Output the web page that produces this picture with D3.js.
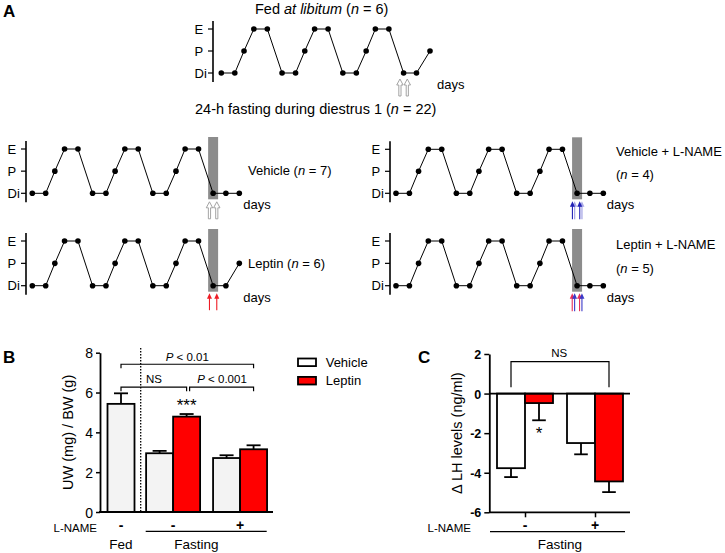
<!DOCTYPE html>
<html><head><meta charset="utf-8">
<script src="https://cdn.jsdelivr.net/npm/d3@7"></script>
<style>body{margin:0;background:#fff} svg{display:block} text{font-family:"Liberation Sans",Arial,sans-serif;fill:#000}</style>
</head><body><svg id="c" width="725" height="553"></svg>
<script>
// ---------- DATA ----------
const stageLevels = ["Di", "P", "E"];
const dayPositions = [0, 1.1, 1.85, 2.65, 3.75, 4.95, 6.05, 6.8, 7.6, 8.7, 9.9, 11, 11.8, 12.55, 13.65, 14.85, 15.9, 17];
const baseCycle = ["Di","Di","P","E","E","Di","Di","P","E","E","Di","Di","P","E","E"];
const fedCycle = baseCycle.concat(["Di","Di","P"]);
const vehicleCycle = baseCycle.concat(["Di","Di","Di"]);
const leptinCycle = baseCycle.concat(["Di","Di","P"]);
const vehicleLNameCycle = baseCycle.concat(["Di","Di","Di"]);
const leptinLNameCycle = baseCycle.concat(["Di","Di","Di"]);
const injectionDays = [14.55, 15.15];
const fastingWindow = [14.44, 15.26];

const uwTicks = [0, 2, 4, 6, 8];
const uwTreatment = ["Vehicle", "Vehicle", "Leptin", "Vehicle", "Leptin"];
const uwGroup = [0, 1, 1, 2, 2];
const uwMean = [5.43, 2.95, 4.79, 2.71, 3.15];
const uwSem = [0.53, 0.12, 0.13, 0.14, 0.2];
const uwLName = ["-", "-", "+"];

const lhTicks = [-6, -4, -2, 0, 2];
const lhLName = ["-", "+"];
const lhGroup = ["-", "-", "+", "+"];
const lhTreatment = ["Vehicle", "Leptin", "Vehicle", "Leptin"];
const lhMean = [-3.77, -0.48, -2.5, -4.44];
const lhSem = [0.45, 0.87, 0.57, 0.54];

const legendItems = ["Vehicle", "Leptin"];
const fillOf = {Vehicle: "#f3f3f3", Leptin: "#ff0000"};

// ---------- DRAW ----------
const svg = d3.select("#c");
const FONT = "Liberation Sans, Arial, sans-serif";

function txt(g, x, y, s, size, opts = {}) {
  const t = g.append("text").attr("x", x).attr("y", y).attr("font-size", size)
    .attr("text-anchor", opts.anchor || "start");
  if (opts.weight) t.attr("font-weight", opts.weight);
  if (opts.transform) t.attr("transform", opts.transform);
  return t;
}
function rich(t, parts) {
  parts.forEach(p => {
    const ts = t.append("tspan").text(p[0]);
    if (p[1]) ts.attr("font-style", "italic");
  });
  return t;
}

function openArrow(g, x, tip, bottom, color) {
  const hw = 3.2, hh = 6, sw = 1.1;
  g.append("path").attr("d",
    `M${x},${tip}L${x+hw},${tip+hh}L${x+sw},${tip+hh}L${x+sw},${bottom}L${x-sw},${bottom}L${x-sw},${tip+hh}L${x-hw},${tip+hh}Z`)
    .attr("fill", "#fff").attr("stroke", color).attr("stroke-width", 0.9);
}
function solidArrow(g, x, tip, bottom, color, w = 1.1) {
  g.append("line").attr("x1", x).attr("x2", x).attr("y1", tip + 4).attr("y2", bottom)
    .attr("stroke", color).attr("stroke-width", w);
  g.append("path").attr("d", `M${x},${tip}L${x+2.5},${tip+5.5}L${x-2.5},${tip+5.5}Z`).attr("fill", color);
}

function cyclePanel(cfg) {
  const g = svg.append("g");
  const x = d3.scaleLinear().domain([0, 17]).range(cfg.xr);
  const y = d3.scalePoint().domain(stageLevels).range([cfg.yDi, cfg.yE]);
  if (cfg.fast) {
    g.append("rect").attr("x", x(fastingWindow[0])).attr("width", x(fastingWindow[1]) - x(fastingWindow[0]))
      .attr("y", cfg.yE - 12).attr("height", cfg.yDi - cfg.yE + 18).attr("fill", "#8c8c8c");
  }
  g.append("line").attr("x1", cfg.ax).attr("x2", cfg.ax).attr("y1", cfg.yE - 8).attr("y2", cfg.yDi + 9)
    .attr("stroke", "#000").attr("stroke-width", 1.6);
  stageLevels.forEach(s => {
    g.append("line").attr("x1", cfg.ax - 5).attr("x2", cfg.ax).attr("y1", y(s)).attr("y2", y(s))
      .attr("stroke", "#000").attr("stroke-width", 1.2);
    txt(g, cfg.ax - 18.5, y(s) + 4.5, s, 13).text(s);
  });
  const pts = cfg.data.map((s, i) => [x(dayPositions[i]), y(s)]);
  g.append("path").attr("d", d3.line()(pts)).attr("fill", "none").attr("stroke", "#000").attr("stroke-width", 1);
  g.selectAll("circle.p").data(pts).enter().append("circle")
    .attr("cx", d => d[0]).attr("cy", d => d[1]).attr("r", 2.8).attr("fill", "#000");
  txt(g, x(17) + cfg.daysDx, cfg.yDi + 16, "days", 13).text("days");
  injectionDays.forEach(d => cfg.arrow(g, x(d), cfg.yDi + cfg.tipDy, cfg.yDi + cfg.tipDy + cfg.alen));
  return g;
}

// Panel letters
txt(svg, 3, 17, "A", 17, {weight: "bold"}).text("A");
txt(svg, 3, 363, "B", 17, {weight: "bold"}).text("B");
txt(svg, 418, 363, "C", 17, {weight: "bold"}).text("C");

// Titles
rich(txt(svg, 255, 14, "", 14.5), [["Fed "], ["at libitum", true], [" ("], ["n", true], [" = 6)"]]);
rich(txt(svg, 195, 114, "", 14.5), [["24-h fasting during diestrus 1 ("], ["n", true], [" = 22)"]]);

cyclePanel({xr: [221.3, 430], ax: 213, yE: 29, yDi: 73, data: fedCycle, fast: false, daysDx: 7,
  tipDy: 6, alen: 17, arrow: (g, x, t, b) => openArrow(g, x, t, b, "#9a9a9a")});
cyclePanel({xr: [32.3, 239.3], ax: 26, yE: 149, yDi: 193.3, data: vehicleCycle, fast: true, daysDx: 4,
  tipDy: 8.5, alen: 17, arrow: (g, x, t, b) => openArrow(g, x, t, b, "#9a9a9a")});
cyclePanel({xr: [32.3, 239.3], ax: 26, yE: 241, yDi: 285.7, data: leptinCycle, fast: true, daysDx: 4,
  tipDy: 7.5, alen: 17, arrow: (g, x, t, b) => solidArrow(g, x, t, b, "#ee1c25")});
cyclePanel({xr: [396, 603.3], ax: 390, yE: 149.3, yDi: 193.3, data: vehicleLNameCycle, fast: true, daysDx: 3.5,
  tipDy: 8, alen: 18, arrow: (g, x, t, b) => { solidArrow(g, x + 1.2, t, b, "#a9a9e6", 1.3); solidArrow(g, x - 1, t, b, "#2323b5", 1.1); }});
cyclePanel({xr: [396, 603.3], ax: 390, yE: 241, yDi: 285.7, data: leptinLNameCycle, fast: true, daysDx: 3.5,
  tipDy: 7.5, alen: 18, arrow: (g, x, t, b) => { solidArrow(g, x - 1.2, t, b, "#e8305a", 1.1); solidArrow(g, x + 1.2, t, b, "#3a3ac8", 1.1); }});

rich(txt(svg, 248, 175, "", 13), [["Vehicle ("], ["n", true], [" = 7)"]]);
rich(txt(svg, 248, 268, "", 13), [["Leptin ("], ["n", true], [" = 6)"]]);
txt(svg, 616, 156, "", 13).text("Vehicle + L-NAME");
rich(txt(svg, 616, 179, "", 13), [["("], ["n", true], [" = 4)"]]);
txt(svg, 616, 249, "", 13).text("Leptin + L-NAME");
rich(txt(svg, 616, 273, "", 13), [["("], ["n", true], [" = 5)"]]);

// ---------- Panel B ----------
const gB = svg.append("g");
const yB = d3.scaleLinear().domain([0, 8]).range([512, 352.7]);
const groupGap = [0, 0.43, 0.91];
const xB = d3.scaleLinear().domain([0, 1]).range([107.5, 134.5]);
const bw = xB(1) - xB(0);
const bx = i => xB(i + groupGap[uwGroup[i]]);

gB.append("line").attr("x1", 140.7).attr("x2", 140.7).attr("y1", 348).attr("y2", yB(0))
  .attr("stroke", "#000").attr("stroke-width", 1.3).attr("stroke-dasharray", "1.4,1.6");

uwMean.forEach((m, i) => {
  const x0 = bx(i);
  gB.append("rect").attr("x", x0).attr("width", bw).attr("y", yB(m)).attr("height", yB(0) - yB(m))
    .attr("fill", fillOf[uwTreatment[i]]).attr("stroke", "#000").attr("stroke-width", 1.8);
  const cx = x0 + bw / 2;
  gB.append("line").attr("x1", cx).attr("x2", cx).attr("y1", yB(m)).attr("y2", yB(m + uwSem[i]))
    .attr("stroke", "#000").attr("stroke-width", 1.8);
  gB.append("line").attr("x1", cx - 7).attr("x2", cx + 7).attr("y1", yB(m + uwSem[i])).attr("y2", yB(m + uwSem[i]))
    .attr("stroke", "#000").attr("stroke-width", 1.8);
});

const axB = gB.append("g").attr("transform", "translate(100,0)")
  .call(d3.axisLeft(yB).tickValues(uwTicks).tickSize(4).tickSizeOuter(0).tickPadding(3));
axB.select(".domain").attr("stroke-width", 1.8);
axB.selectAll(".tick line").attr("stroke-width", 1.5);
axB.selectAll(".tick text").attr("font-size", 14).attr("font-family", FONT).attr("dy", "0.36em");
gB.append("line").attr("x1", 99).attr("x2", 273).attr("y1", yB(0)).attr("y2", yB(0))
  .attr("stroke", "#000").attr("stroke-width", 1.8);

txt(gB, 0, 0, "", 14.5, {anchor: "middle", transform: `translate(73,${yB(4)}) rotate(-90)`}).text("UW (mg) / BW (g)");

function bracket(g, x1, x2, y, leg, sw = 1.2) {
  g.append("path").attr("d", `M${x1},${y + leg}V${y}H${x2}V${y + leg}`).attr("fill", "none")
    .attr("stroke", "#000").attr("stroke-width", sw);
}
const cB = i => bx(i) + bw / 2;
bracket(gB, cB(0), cB(4), yB(7.42), 4);
bracket(gB, cB(0), cB(2), yB(6.27), 4);
bracket(gB, cB(2) + 3, cB(4), yB(6.27), 4);
rich(txt(gB, (cB(0) + cB(4)) / 2, 361, "", 11.5, {anchor: "middle"}), [["P", true], [" < 0.01"]]);
txt(gB, 154, 383, "", 11.5, {anchor: "middle"}).text("NS");
rich(txt(gB, 222, 383, "", 11.5, {anchor: "middle"}), [["P", true], [" < 0.001"]]);
txt(gB, cB(2), 411, "", 17, {anchor: "middle"}).text("***");

txt(gB, 97, 531.5, "", 11.5, {anchor: "end"}).text("L-NAME");
[0, 1, 2].forEach(gi => {
  const idx = uwGroup.map((g, i) => g === gi ? i : -1).filter(i => i >= 0);
  const cx = (bx(idx[0]) + bx(idx[idx.length - 1]) + bw) / 2;
  txt(gB, cx, 529.5, "", 14, {anchor: "middle", weight: "bold"}).text(uwLName[gi]);
});
gB.append("line").attr("x1", 145.7).attr("x2", 266.7).attr("y1", 531.3).attr("y2", 531.3)
  .attr("stroke", "#000").attr("stroke-width", 1.2);
txt(gB, cB(0), 549, "", 13.5, {anchor: "middle"}).text("Fed");
txt(gB, 196.5, 549, "", 13.5, {anchor: "middle"}).text("Fasting");

legendItems.forEach((l, i) => {
  gB.append("rect").attr("x", 298).attr("y", 358.5 + i * 18.4).attr("width", 18).attr("height", 7.6)
    .attr("fill", l === "Vehicle" ? "#fff" : fillOf[l]).attr("stroke", "#000").attr("stroke-width", 1.8);
  txt(gB, 325.7, 367 + i * 18.4, "", 13).text(l);
});

// ---------- Panel C ----------
const gC = svg.append("g");
const yC = d3.scaleLinear().domain([-6, 2]).range([512.3, 354]);
const xC = d3.scalePoint().domain(lhLName).range([490, 630]).padding(0.5);
const cw = 28;

lhMean.forEach((m, i) => {
  const c = xC(lhGroup[i]);
  const x0 = lhTreatment[i] === "Vehicle" ? c - cw : c;
  gC.append("rect").attr("x", x0).attr("width", cw).attr("y", yC(0)).attr("height", yC(m) - yC(0))
    .attr("fill", lhTreatment[i] === "Vehicle" ? "#fff" : fillOf.Leptin).attr("stroke", "#000").attr("stroke-width", 1.8);
  const cx = x0 + cw / 2;
  gC.append("line").attr("x1", cx).attr("x2", cx).attr("y1", yC(m)).attr("y2", yC(m - lhSem[i]))
    .attr("stroke", "#000").attr("stroke-width", 1.8);
  gC.append("line").attr("x1", cx - 6.8).attr("x2", cx + 6.8).attr("y1", yC(m - lhSem[i])).attr("y2", yC(m - lhSem[i]))
    .attr("stroke", "#000").attr("stroke-width", 1.8);
});

gC.append("line").attr("x1", 489).attr("x2", 630).attr("y1", yC(0)).attr("y2", yC(0))
  .attr("stroke", "#000").attr("stroke-width", 1.8);
const axC = gC.append("g").attr("transform", "translate(489.3,0)")
  .call(d3.axisLeft(yC).tickValues(lhTicks).tickSize(5).tickSizeOuter(0).tickPadding(3).tickFormat(d3.format("d")));
axC.select(".domain").attr("stroke-width", 1.8);
axC.selectAll(".tick line").attr("stroke-width", 1.5);
axC.selectAll(".tick text").attr("font-size", 12.5).attr("font-weight", "bold").attr("font-family", FONT).attr("dy", "0.36em")
  .text(d => d < 0 ? "-" + Math.abs(d) : d);
const axCb = gC.append("g").attr("transform", `translate(0,${yC(-6)})`)
  .call(d3.axisBottom(xC).tickSize(5).tickSizeOuter(0).tickFormat(""));
axCb.select(".domain").attr("d", `M489,0H630`).attr("stroke-width", 1.8);
axCb.selectAll(".tick line").attr("stroke-width", 1.5);

txt(gC, 0, 0, "", 14.5, {anchor: "middle", transform: `translate(462,${yC(-2)}) rotate(-90)`}).text("Δ LH levels (ng/ml)");

gC.append("path").attr("d", `M${xC("-") - cw / 2},${387.3}V${361.7}H${xC("+") + cw / 2}V${387.3}`)
  .attr("fill", "none").attr("stroke", "#000").attr("stroke-width", 1.2);
txt(gC, 559.3, 356.7, "", 11.5, {anchor: "middle"}).text("NS");
txt(gC, xC("-") + cw / 2, 439, "", 17, {anchor: "middle"}).text("*");

txt(gC, 471, 531.5, "", 11.5, {anchor: "end"}).text("L-NAME");
lhLName.forEach(l => txt(gC, xC(l), 529.5, "", 14, {anchor: "middle", weight: "bold"}).text(l));
gC.append("line").attr("x1", 490).attr("x2", 625).attr("y1", 531.7).attr("y2", 531.7)
  .attr("stroke", "#000").attr("stroke-width", 1.2);
txt(gC, 560, 548.5, "", 13.5, {anchor: "middle"}).text("Fasting");
</script></body></html>
